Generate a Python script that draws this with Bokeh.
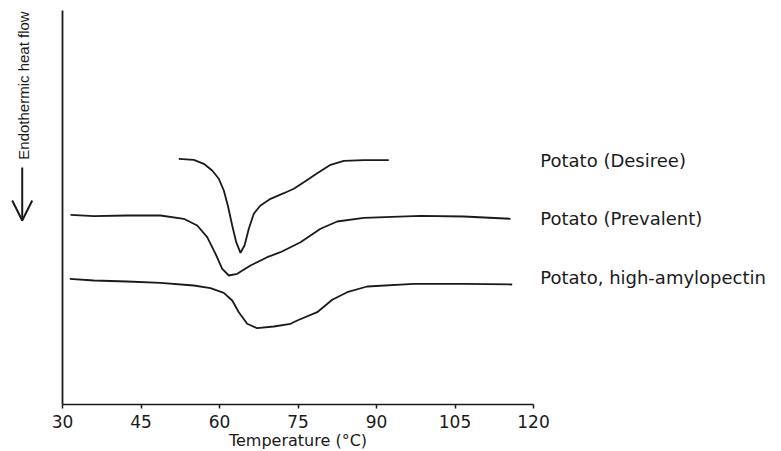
import math
from bokeh.plotting import figure
from bokeh.models import Range1d, FixedTicker, Label, Arrow, OpenHead
from bokeh.embed import file_html
from bokeh.resources import INLINE

# Temperature ticks (°C)
x_ticks = [30, 45, 60, 75, 90, 105, 120]

# Potato (Desiree)
desiree_t = [52.22, 55.09, 57.00, 58.60, 59.87, 60.82, 61.59, 62.43, 63.19, 64.01,
             64.78, 65.60, 66.55, 67.83, 69.75, 72.29, 74.20, 76.11, 78.67, 81.22,
             83.75, 87.57, 92.35]
desiree_y = [246.7, 245.7, 241.7, 235.0, 226.7, 215.0, 200.0, 180.0, 163.3, 152.7,
             160.0, 176.7, 191.7, 200.0, 206.7, 212.3, 216.7, 223.3, 232.3, 240.7,
             244.7, 245.3, 245.3]

# Potato (Prevalent)
prevalent_t = [31.53, 35.98, 42.36, 48.73, 53.18, 55.74, 57.65, 59.24, 60.52, 61.78,
               63.38, 65.92, 69.11, 71.65, 75.48, 79.30, 82.49, 87.57, 98.41, 106.68,
               115.61]
prevalent_y = [190.7, 189.3, 190.0, 190.0, 186.7, 180.0, 168.3, 151.7, 136.7, 130.0,
               131.7, 140.0, 148.3, 153.3, 163.3, 176.7, 184.0, 187.7, 189.7, 189.0,
               186.7]

# Potato, high-amylopectin
amylo_t = [31.39, 35.98, 42.36, 48.73, 55.09, 58.28, 60.82, 62.43, 63.69, 65.29,
           67.20, 70.38, 73.57, 74.85, 78.67, 81.54, 84.40, 88.22, 97.13, 106.68,
           115.93]
amylo_y = [126.7, 125.0, 124.0, 122.7, 120.0, 117.3, 112.7, 105.0, 93.3, 81.7,
           77.3, 79.0, 81.7, 85.0, 93.3, 105.7, 113.3, 119.0, 121.7, 121.7,
           121.0]

series_names = ["Potato (Desiree)", "Potato (Prevalent)", "Potato, high-amylopectin"]
series_t = [desiree_t, prevalent_t, amylo_t]
series_y = [desiree_y, prevalent_y, amylo_y]

p = figure(width=781, height=451, output_backend="svg", toolbar_location=None,
           x_range=Range1d(18.15, 167.39), y_range=Range1d(-46, 405),
           min_border_left=0, min_border_right=0, min_border_top=0,
           min_border_bottom=0)
p.outline_line_color = None
p.xgrid.visible = False
p.ygrid.visible = False
p.background_fill_color = "white"
p.border_fill_color = "white"

ink = "#1a1a1a"

for t, y in zip(series_t, series_y):
    p.line(t, y, line_color=ink, line_width=1.8)

# curve labels, placed just right of the plotted range
label_x = 121.3
label_y = [245, 187, 128]
for name, ly in zip(series_names, label_y):
    p.add_layout(Label(x=label_x, y=ly, text=name, text_font="DejaVu Sans",
                       text_font_size="18px", text_color=ink,
                       text_align="left", text_baseline="middle"))

# x axis: drawn at the bottom of the data area, between 30 and 120 °C
xa = p.xaxis[0]
xa.fixed_location = 1
xa.bounds = (30, 120)
xa.ticker = FixedTicker(ticks=x_ticks)
xa.minor_tick_line_color = None
xa.major_tick_out = 4
xa.major_tick_in = 0
xa.axis_line_width = 1.5
xa.axis_line_color = ink
xa.major_tick_line_color = ink
xa.major_tick_line_width = 1.5
xa.major_label_text_font = "DejaVu Sans"
xa.major_label_text_font_size = "17px"
xa.major_label_text_color = ink
xa.major_label_standoff = 6

# x axis title, centred under the axis
p.add_layout(Label(x=75, y=-35, text="Temperature (°C)", text_font="DejaVu Sans",
                   text_font_size="16px", text_color=ink,
                   text_align="center", text_baseline="middle"))

# y axis: bare line at T = 30
ya = p.yaxis[0]
ya.fixed_location = 30
ya.bounds = (1, 395)
ya.ticker = FixedTicker(ticks=[])
ya.major_label_text_font_size = "0px"
ya.minor_tick_line_color = None
ya.major_tick_line_color = None
ya.axis_line_width = 1.8
ya.axis_line_color = ink

# y axis caption with downward arrow
p.add_layout(Label(x=22.5, y=320, text="Endothermic heat flow", angle=math.pi / 2,
                   text_font="Liberation Sans", text_font_size="15px",
                   text_color=ink, text_align="center", text_baseline="middle"))
p.add_layout(Arrow(x_start=22.3, y_start=238, x_end=22.3, y_end=185,
                   line_width=2, line_color=ink,
                   end=OpenHead(size=20, line_width=2, line_color=ink)))

open("out.html", "w").write(file_html(p, INLINE))
